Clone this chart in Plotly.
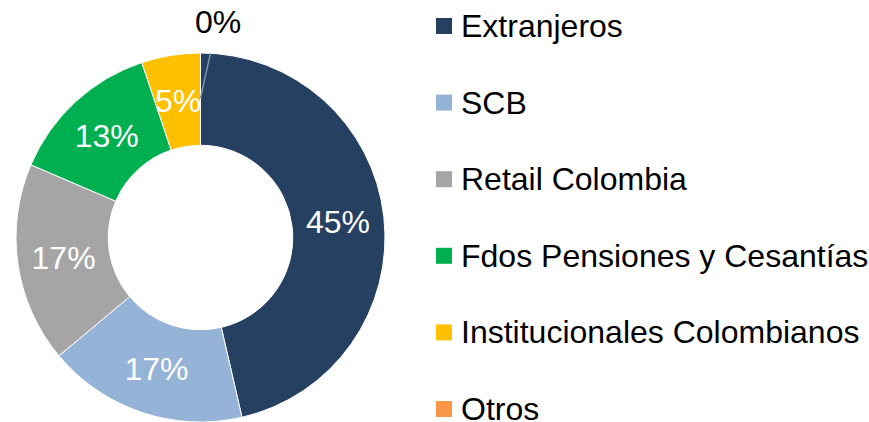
import math
import plotly.graph_objects as go

categories = ["Extranjeros", "SCB", "Retail Colombia", "Fdos Pensiones y Cesantías",
              "Institucionales Colombianos", "Otros"]
values = [0.45, 0.17, 0.17, 0.13, 0.05, 0.0]
colors = ["#264061", "#95B3D7", "#A5A5A5", "#00B050", "#FFC000", "#F79646"]

W, H = 869, 422
FONT = "Arial, Liberation Sans, sans-serif"
FS = 32

# pie geometry (pixels from top-left)
CX, CY, R = 200.5, 237.5, 184.5
HOLE = 0.5

total = sum(values)
# slices too thin for plotly's inside text get their label placed at mid-ring
small = [v / total < 0.08 for v in values]
templates = ["" if s else "%{value:.0%}" for s in small]

fig = go.Figure()
fig.add_trace(go.Pie(
    labels=categories,
    values=values,
    hole=HOLE,
    sort=False,
    direction="clockwise",
    rotation=0,
    marker=dict(colors=colors, line=dict(color="white", width=1)),
    texttemplate=templates,
    textposition="inside",
    insidetextorientation="horizontal",
    textfont=dict(family=FONT, size=FS, color="white"),
    domain=dict(x=[(CX - R) / W, (CX + R) / W], y=[(H - CY - R) / H, (H - CY + R) / H]),
    showlegend=False,
    hoverinfo="label+value",
))

annotations = []
shapes = []

cum = 0.0
for v, s in zip(values, small):
    if s and v > 0:
        ang = math.radians((cum + v / 2) / total * 360)
        rm = R * (1 + HOLE) / 2
        x = CX + rm * math.sin(ang)
        y = CY - rm * math.cos(ang)
        annotations.append(dict(
            x=x / W, y=1 - y / H, xref="paper", yref="paper", showarrow=False,
            xanchor="center", yanchor="middle",
            text=f"{v:.0%}", font=dict(family=FONT, size=FS, color="white"),
        ))
    cum += v

# label for the zero-valued slice (Otros) with leader line
annotations.append(dict(
    x=CX / W, y=1 - 98 / H, xref="paper", yref="paper",
    text=f"{values[-1]:.0%}", showarrow=True, arrowhead=0, arrowwidth=1.5,
    arrowcolor="#7F93A8", ax=17, ay=-76, standoff=0, startstandoff=12,
    font=dict(family=FONT, size=FS, color="#000000"),
))

# custom legend
y0 = 26
step = 76.6
sq = 16
for i, (cat, col) in enumerate(zip(categories, colors)):
    cy = y0 + i * step
    shapes.append(dict(
        type="rect", xref="paper", yref="paper",
        x0=436 / W, x1=(436 + sq) / W,
        y0=1 - (cy - sq / 2) / H, y1=1 - (cy + sq / 2) / H,
        fillcolor=col, line=dict(width=0),
    ))
    annotations.append(dict(
        x=459 / W, y=1 - cy / H, xref="paper", yref="paper",
        xanchor="left", yanchor="middle", showarrow=False,
        text=cat, font=dict(family=FONT, size=FS, color="#000000"),
    ))

fig.update_layout(
    width=W, height=H,
    margin=dict(l=0, r=0, t=0, b=0),
    paper_bgcolor="white", plot_bgcolor="white",
    annotations=annotations, shapes=shapes,
    uniformtext=dict(minsize=FS, mode="show"),
)

fig.write_html("out.html", config={"displayModeBar": False},
               post_script="document.body.style.margin='0';")
